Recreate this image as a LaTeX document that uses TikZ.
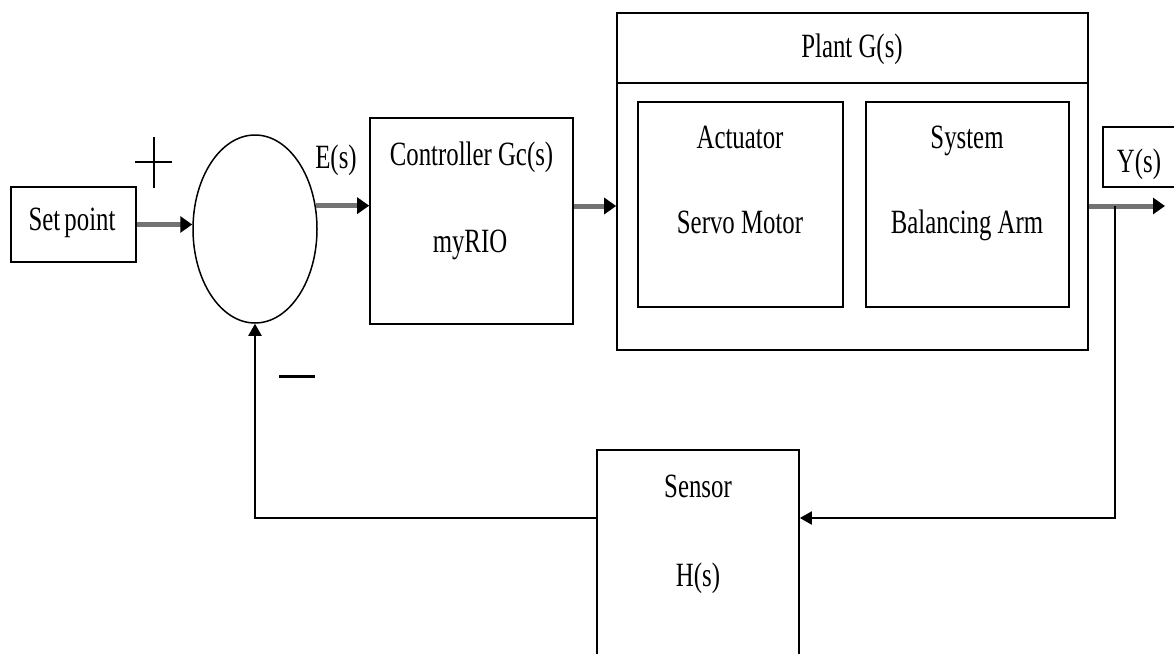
\documentclass[tikz,border=0pt]{standalone}
\usepackage{fontspec}
\setmainfont{Liberation Serif}[FakeStretch=0.73]
\usetikzlibrary{arrows.meta,shapes.geometric}
\begin{document}
\begin{tikzpicture}[x=1pt,y=-1pt,
  box/.style={draw=black,line width=1.6pt,inner sep=0pt},
  lbl/.style={anchor=base,font=\fontsize{34}{40}\selectfont,inner sep=0pt},
  fwd/.style={draw=black!55,line width=5pt,-{Triangle[length=12pt,width=16pt,color=black]}},
  fb/.style={draw=black,line width=2pt,-{Triangle[length=12pt,width=13pt]}},
]
\clip (0,0) rectangle (1174,653);
\fill[white] (0,0) rectangle (1174,653);
% blocks
\node[box,minimum width=125pt,minimum height=75pt] (sp) at (73.5,224.5) {};
\node[draw=black,line width=1.5pt,ellipse,inner sep=0pt,minimum width=124pt,minimum height=188pt] (sum) at (255,229) {};
\node[box,minimum width=203pt,minimum height=206pt] (ctrl) at (471.5,221) {};
\node[box,minimum width=471pt,minimum height=70pt] (ptitle) at (852.5,48) {};
\node[box,minimum width=471pt,minimum height=267pt] (body) at (852.5,216.5) {};
\node[box,minimum width=205pt,minimum height=205pt] (act) at (740.5,204.5) {};
\node[box,minimum width=203pt,minimum height=205pt] (sys) at (967.5,204.5) {};
\node[box,minimum width=87pt,minimum height=60pt] (ybox) at (1146.5,157) {};
\node[box,minimum width=202pt,minimum height=250pt] (sens) at (698,575) {};
% texts
\node[lbl] (tsp) at (72,230) {Set\hspace{-2pt} point};
\node[lbl] (tes) at (336,168) {E(s)};
\node[lbl] (tc1) at (471.5,165) {Controller Gc(s)};
\node[lbl] (tc2) at (470,252) {myRIO};
\node[lbl] (tpl) at (852,57) {Plant G(s)};
\node[lbl] (ta1) at (740,148) {Actuator};
\node[lbl] (ta2) at (740,233) {Servo Motor};
\node[lbl] (ts1) at (967,148) {System};
\node[lbl] (ts2) at (967,233) {Balancing Arm};
\node[lbl] (ty) at (1139,172) {Y(s)};
\node[lbl] (tse) at (698,497) {Sensor};
\node[lbl] (th) at (698,586) {H(s)};
% signs
\draw[line width=1.5pt] (135,162) -- (172,162) (154,137) -- (154,188);
\draw[line width=3pt] (279,376) -- (315,376);
% connectors
\coordinate (lv) at (0,206);
\coordinate (fy) at (0,518);
\coordinate (br) at (1115,206);
\coordinate (yout) at (1165,206);
\draw[fwd] (sp.east) -- (sp.east -| sum.west);
\draw[fwd] (sum.21) -- (sum.21 -| ctrl.west);
\draw[fwd] (ctrl.east |- lv) -- (body.west |- lv);
\draw[fwd] (body.east |- lv) -- (yout);
\draw[fb] (br) |- (sens.east |- fy);
\draw[fb] (sens.west |- fy) -| (sum.south);
\end{tikzpicture}
\end{document}
